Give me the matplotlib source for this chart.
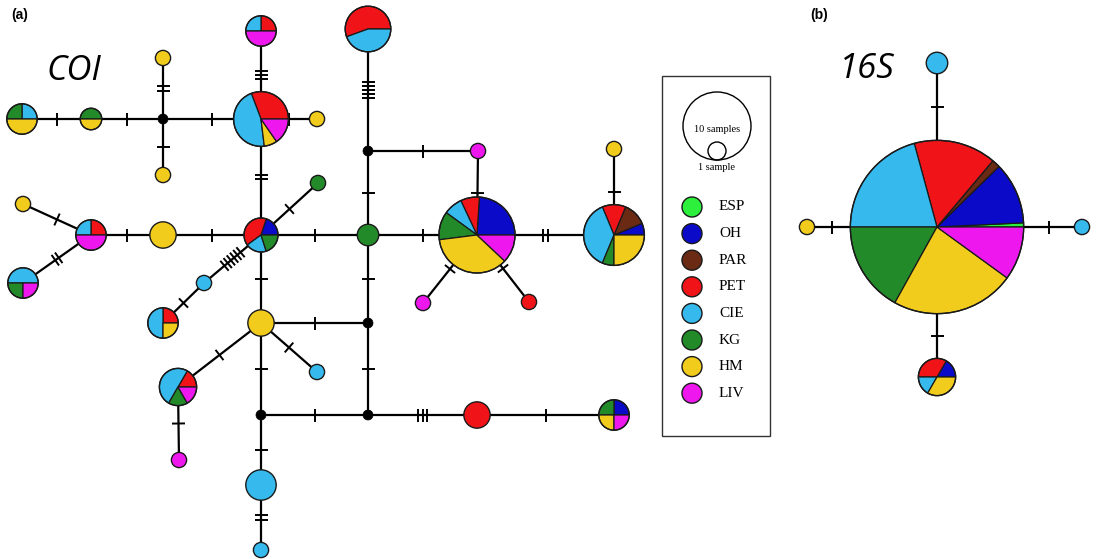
import numpy as np
import matplotlib.pyplot as plt
from matplotlib.patches import Wedge, Circle, Rectangle

# populations, in the order wedges are laid out and listed in the key
POPS = ["ESP", "OH", "PAR", "PET", "CIE", "KG", "HM", "LIV"]
POP_COLOURS = ["#2cf03c", "#0a0ac8", "#6a2a14", "#f01418",
               "#36b9ec", "#238a2a", "#f2cc1c", "#ee18ee"]

# ---- COI haplotype network -------------------------------------------------
# node layout (px, y down) and sample counts per population; {} = median vector
coi_names = ["hA", "hB", "mv1", "hY1", "hY2", "hD", "hE", "hY3", "hF", "mv2",
             "hM1", "hH", "hI", "hJ", "hY4", "hM2", "hR1", "hK", "hG1", "hY5",
             "hL", "hY6", "hM", "hC1", "hN", "hO", "hC2", "hP", "hM3", "mv3",
             "mv4", "mv5", "hT", "hU", "hV", "hC3"]
coi_x = [22, 91, 163, 163, 163, 261, 261, 317, 368, 368,
         478, 368, 477, 614, 614, 423, 529, 261, 318, 163,
         91, 23, 23, 204, 163, 261, 317, 178, 179, 368,
         261, 368, 477, 614, 261, 261]
coi_y = [119, 119, 119, 58, 175, 119, 31, 119, 29, 151,
         151, 235, 235, 235, 149, 303, 302, 235, 183, 235,
         235, 204, 283, 283, 323, 323, 372, 387, 460, 323,
         415, 415, 415, 415, 485, 550]
coi_counts = [
    {"CIE": 1, "KG": 1, "HM": 2}, {"KG": 1, "HM": 1}, {}, {"HM": 1}, {"HM": 1},
    {"PET": 4, "CIE": 6, "HM": 1, "LIV": 2}, {"PET": 1, "CIE": 1, "LIV": 2},
    {"HM": 1}, {"PET": 5, "CIE": 4}, {},
    {"LIV": 1}, {"KG": 2},
    {"OH": 6, "PET": 2, "CIE": 2, "KG": 3, "HM": 9, "LIV": 3},
    {"OH": 1, "PAR": 2, "PET": 2, "CIE": 6, "KG": 1, "HM": 4},
    {"HM": 1}, {"LIV": 1}, {"PET": 1},
    {"OH": 1, "PET": 2, "CIE": 1, "KG": 1}, {"KG": 1}, {"HM": 3},
    {"PET": 1, "CIE": 1, "LIV": 2}, {"HM": 1}, {"CIE": 2, "KG": 1, "LIV": 1},
    {"CIE": 1}, {"PET": 1, "CIE": 2, "HM": 1}, {"HM": 3}, {"CIE": 1},
    {"PET": 1, "CIE": 3, "KG": 1, "LIV": 1}, {"LIV": 1}, {},
    {}, {}, {"PET": 3}, {"OH": 1, "KG": 1, "HM": 1, "LIV": 1},
    {"CIE": 4}, {"CIE": 1},
]
# links and number of mutational steps
coi_edges = [
    ("hA", "hB", 1), ("hB", "mv1", 1), ("mv1", "hY1", 2), ("mv1", "hY2", 1),
    ("mv1", "hD", 1), ("hD", "hY3", 1), ("hD", "hE", 3), ("hD", "hK", 2),
    ("hK", "hH", 1), ("hK", "hY5", 1), ("hY5", "hL", 1), ("hL", "hY6", 1),
    ("hL", "hM", 2), ("hK", "hG1", 1), ("hK", "hC1", 6), ("hC1", "hN", 1),
    ("hK", "hO", 1), ("hO", "mv3", 1), ("hO", "hC2", 1), ("hO", "hP", 1),
    ("hP", "hM3", 1), ("hO", "mv4", 1), ("mv4", "hV", 1), ("hV", "hC3", 2),
    ("mv4", "mv5", 1), ("mv5", "mv3", 1), ("mv3", "hH", 1), ("hH", "mv2", 1),
    ("mv2", "hF", 5), ("mv2", "hM1", 1), ("hM1", "hI", 1), ("hH", "hI", 1),
    ("hI", "hJ", 2), ("hJ", "hY4", 1), ("hI", "hM2", 1), ("hI", "hR1", 1),
    ("mv5", "hT", 3), ("hT", "hU", 1),
]

# ---- 16S haplotype network -------------------------------------------------
s16_names = ["main", "top", "left", "right", "bottom"]
s16_x = [937, 937, 807, 1082, 937]
s16_y = [227, 63, 227, 227, 377]
s16_counts = [
    {"ESP": 1, "OH": 15, "PAR": 2, "PET": 20, "CIE": 27, "KG": 22, "HM": 30, "LIV": 13},
    {"CIE": 2}, {"HM": 1}, {"CIE": 1},
    {"PET": 2, "OH": 1, "CIE": 1, "HM": 2},
]
s16_edges = [("main", "top", 1), ("main", "left", 1),
             ("main", "right", 1), ("main", "bottom", 1)]

R1 = 7.6          # radius of a single-sample haplotype, px
MV_R = 5          # median vector dot
TICK_HALF = 6.5
TICK_GAP = 4.2
OUTLINE = "#1a1a1a"


def node_radius(counts):
    n = sum(counts.values())
    return MV_R if n == 0 else R1 * np.sqrt(n)


def draw_node(ax, x, y, counts):
    n = sum(counts.values())
    if n == 0:
        ax.add_patch(Circle((x, y), MV_R, fc="black", ec="black", lw=0.5, zorder=3))
        return
    r = node_radius(counts)
    parts = [(counts[p], c) for p, c in zip(POPS, POP_COLOURS) if counts.get(p)]
    if len(parts) == 1:
        ax.add_patch(Circle((x, y), r, fc=parts[0][1], ec=OUTLINE, lw=1.0, zorder=3))
        return
    start = 0.0
    for k, col in parts:
        span = 360.0 * k / n
        # y axis runs downwards, so negate angles to keep wedges counter-clockwise
        ax.add_patch(Wedge((x, y), r, -(start + span), -start, fc=col,
                           ec=OUTLINE, lw=0.9, zorder=3))
        start += span
    ax.add_patch(Circle((x, y), r, fill=False, ec=OUTLINE, lw=1.0, zorder=4))


def draw_edge(ax, p, q, steps, rp, rq, in_gap=False):
    p, q = np.asarray(p, float), np.asarray(q, float)
    ax.plot([p[0], q[0]], [p[1], q[1]], color="black", lw=1.6, zorder=1,
            solid_capstyle="butt")
    d = q - p
    L = np.hypot(*d)
    u = d / L
    nrm = np.array([-u[1], u[0]])
    t = (rp + L - rq) / 2 if in_gap else L / 2
    for o in (np.arange(steps) - (steps - 1) / 2) * TICK_GAP:
        c = p + u * (t + o)
        a, b = c - nrm * TICK_HALF, c + nrm * TICK_HALF
        ax.plot([a[0], b[0]], [a[1], b[1]], color="black", lw=1.4, zorder=2,
                solid_capstyle="butt")


def draw_network(ax, names, xs, ys, counts, edges, in_gap=False):
    idx = {nm: i for i, nm in enumerate(names)}
    for a, b, steps in edges:
        i, j = idx[a], idx[b]
        draw_edge(ax, (xs[i], ys[i]), (xs[j], ys[j]), steps,
                  node_radius(counts[i]), node_radius(counts[j]), in_gap)
    for x, y, c in zip(xs, ys, counts):
        draw_node(ax, x, y, c)


fig = plt.figure(figsize=(10.96, 5.59), dpi=100)
ax = fig.add_axes([0, 0, 1, 1])
ax.set_xlim(0, 1096)
ax.set_ylim(559, 0)
ax.set_aspect("equal")
ax.axis("off")

draw_network(ax, coi_names, coi_x, coi_y, coi_counts, coi_edges)
draw_network(ax, s16_names, s16_x, s16_y, s16_counts, s16_edges, in_gap=True)

# panel labels and gene names
ax.text(11, 15, "(a)", fontsize=10, fontweight="bold", family="Liberation Sans",
        ha="left", va="center")
ax.text(810, 15, "(b)", fontsize=10, fontweight="bold", family="Liberation Sans",
        ha="left", va="center")
ax.text(46, 71, "COI", fontsize=25, style="italic", family=["Open Sans", "DejaVu Sans"],
        ha="left", va="center")
ax.text(839, 69, "16S", fontsize=25, style="italic", family=["Open Sans", "DejaVu Sans"],
        ha="left", va="center")

# key: size scale and population colours
ax.add_patch(Rectangle((662, 76), 108, 360, fill=False, ec="#333333", lw=1.0))
ax.add_patch(Circle((717, 126), 34, fill=False, ec="black", lw=1.0))
ax.add_patch(Circle((717, 151), 9, fill=False, ec="black", lw=1.0))
ax.text(717, 129, "10 samples", fontsize=7.5, family="Liberation Serif",
        ha="center", va="center")
ax.text(717, 168, "1 sample", fontsize=7.5, family="Liberation Serif",
        ha="center", va="center")
key_y = 207 + 26.6 * np.arange(len(POPS))
for y, pop, col in zip(key_y, POPS, POP_COLOURS):
    ax.add_patch(Circle((692, y), 10, fc=col, ec=OUTLINE, lw=1.0))
    ax.text(719, y, pop, fontsize=11, family="Liberation Serif",
            ha="left", va="center")

fig.savefig("out.png", dpi=100)
